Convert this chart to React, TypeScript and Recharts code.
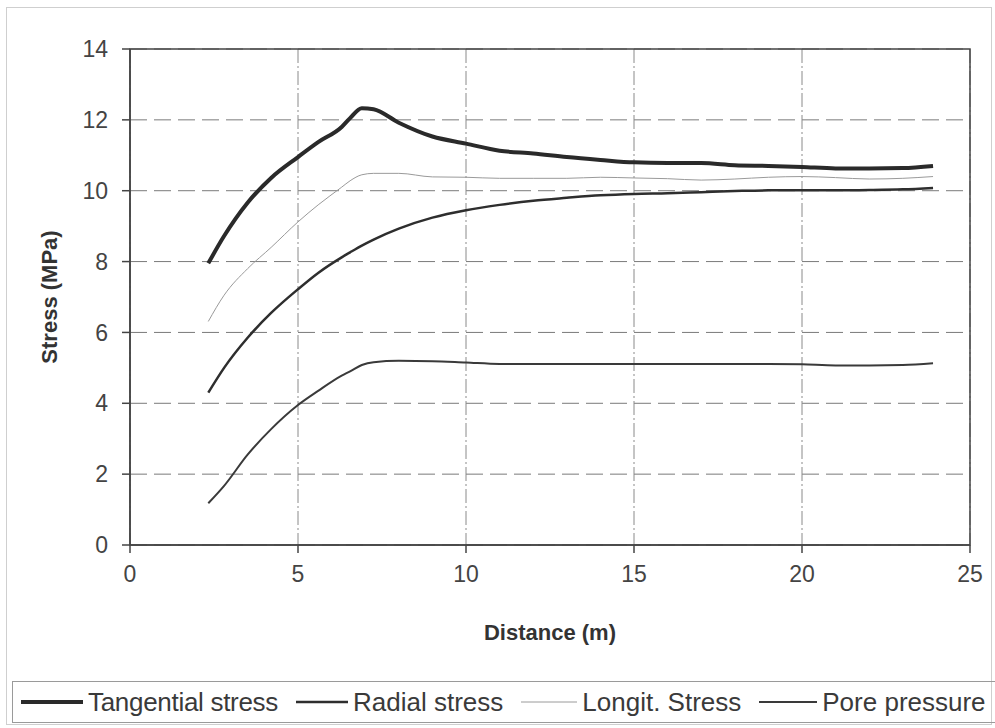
import React from 'react'
import {
  LineChart,
  Line,
  XAxis,
  YAxis,
  CartesianGrid,
  ReferenceArea,
  Legend,
} from 'recharts'

// distance from the opening (m)
const distance = [
  2.33, 2.8, 3.5, 4.2, 5.0, 5.6, 6.3, 6.55, 6.9, 7.25, 8.0, 9.0, 10.0, 11.0, 12.0,
  13.0, 14.0, 15.0, 16.0, 17.0, 18.0, 19.0, 20.0, 21.0, 22.0, 23.0, 23.9,
]

// stresses (MPa)
const tangential = [
  7.95, 8.72, 9.66, 10.36, 10.95, 11.37, 11.8, 12.05, 12.33, 12.3, 11.92, 11.53, 11.33,
  11.13, 11.05, 10.95, 10.87, 10.8, 10.78, 10.78, 10.72, 10.7, 10.67, 10.63, 10.63, 10.64, 10.7,
]
const radial = [
  4.3, 5.0, 5.85, 6.55, 7.22, 7.68, 8.12, 8.26, 8.45, 8.62, 8.93, 9.24, 9.45, 9.6, 9.72,
  9.8, 9.87, 9.91, 9.93, 9.96, 9.99, 10.01, 10.01, 10.01, 10.02, 10.04, 10.08,
]
const longit = [
  6.31, 7.05, 7.8, 8.4, 9.12, 9.6, 10.1, 10.28, 10.45, 10.49, 10.49, 10.39, 10.38,
  10.35, 10.35, 10.35, 10.38, 10.36, 10.34, 10.3, 10.33, 10.38, 10.4, 10.37, 10.33, 10.35, 10.4,
]
const pore = [
  1.18, 1.67, 2.55, 3.27, 3.95, 4.35, 4.78, 4.9, 5.08, 5.16, 5.2, 5.19, 5.15, 5.11,
  5.11, 5.11, 5.11, 5.11, 5.11, 5.11, 5.11, 5.11, 5.1, 5.07, 5.07, 5.08, 5.13,
]

const xTicks = [0, 5, 10, 15, 20, 25]
const yTicks = [0, 2, 4, 6, 8, 10, 12, 14]

const series = [
  { key: 'tangential', name: 'Tangential stress', color: '#2a2a2a', width: 4, sample: 62, spacing: -0.3 },
  { key: 'radial', name: 'Radial stress', color: '#2e2e2e', width: 2.5, sample: 52, spacing: 0 },
  { key: 'longit', name: 'Longit. Stress', color: '#9a9a9a', width: 1, sample: 56, spacing: 0 },
  { key: 'pore', name: 'Pore pressure', color: '#3a3a3a', width: 2, sample: 58, spacing: 0 },
]

const data = distance.map((d, i) => ({
  distance: d,
  tangential: tangential[i],
  radial: radial[i],
  longit: longit[i],
  pore: pore[i],
}))

const FONT = '"Liberation Sans", Arial, sans-serif'

function LegendBox() {
  return (
    <div
      style={{
        display: 'flex',
        alignItems: 'center',
        height: 42,
        border: '1px solid #9a9a9a',
        fontFamily: FONT,
        fontSize: 26,
        color: '#3a3a3a',
        paddingLeft: 8,
        boxSizing: 'border-box',
        whiteSpace: 'nowrap',
      }}
    >
      {series.map((s) => (
        <div key={s.key} style={{ display: 'flex', alignItems: 'center', marginRight: 18 }}>
          <svg width={s.sample} height={10} style={{ marginRight: 5 }}>
            <line x1={0} x2={s.sample} y1={5} y2={5} stroke={s.color} strokeWidth={s.width} />
          </svg>
          <span style={{ letterSpacing: s.spacing }}>{s.name}</span>
        </div>
      ))}
    </div>
  )
}

export default function App() {
  return (
    <div style={{ position: 'absolute', left: 0, top: 0, width: 995, height: 728, background: '#fff' }}>
      <div
        style={{
          position: 'absolute',
          left: 6,
          top: 7,
          width: 986,
          height: 718,
          border: '1px solid #cfcfcf',
          boxSizing: 'border-box',
        }}
      />
      <LineChart
        width={995}
        height={728}
        data={data}
        margin={{ top: 49, right: 25, bottom: 83, left: 0 }}
        style={{ fontFamily: FONT }}
      >
        <CartesianGrid
          horizontal
          vertical={false}
          stroke="#7a7a7a"
          strokeDasharray="17 7"
          strokeWidth={1}
        />
        <CartesianGrid
          horizontal={false}
          vertical
          stroke="#8a8a8a"
          strokeDasharray="14 3 2 3"
          strokeWidth={1}
        />
        <XAxis
          dataKey="distance"
          type="number"
          domain={[0, 25]}
          ticks={xTicks}
          height={100}
          tickSize={8}
          tickMargin={13}
          stroke="#444"
          strokeWidth={1.5}
          tick={{ fill: '#444', fontSize: 23, fontFamily: FONT }}
          label={{
            value: 'Distance (m)',
            position: 'insideBottom',
            offset: 5,
            style: { fill: '#333', fontSize: 22, fontWeight: 'bold', fontFamily: FONT },
          }}
        />
        <YAxis
          type="number"
          domain={[0, 14]}
          ticks={yTicks}
          width={130}
          tickSize={8}
          tickMargin={14}
          stroke="#444"
          strokeWidth={1.5}
          tick={{ fill: '#444', fontSize: 23, fontFamily: FONT }}
          label={{
            value: 'Stress (MPa)',
            angle: -90,
            position: 'insideLeft',
            offset: 49,
            style: { textAnchor: 'middle', fill: '#333', fontSize: 22, fontWeight: 'bold', fontFamily: FONT },
          }}
        />
        <ReferenceArea x1={0} x2={25} y1={0} y2={14} fill="none" stroke="#444" strokeWidth={1.5} />
        {series.map((s) => (
          <Line
            key={s.key}
            type="monotone"
            dataKey={s.key}
            name={s.name}
            stroke={s.color}
            strokeWidth={s.width}
            dot={false}
            activeDot={false}
            isAnimationActive={false}
          />
        ))}
        <Legend
          layout="vertical"
          align="center"
          verticalAlign="middle"
          content={() => <LegendBox />}
          wrapperStyle={{ left: 12, top: 681, width: 1000, height: 42 }}
        />
      </LineChart>
    </div>
  )
}
